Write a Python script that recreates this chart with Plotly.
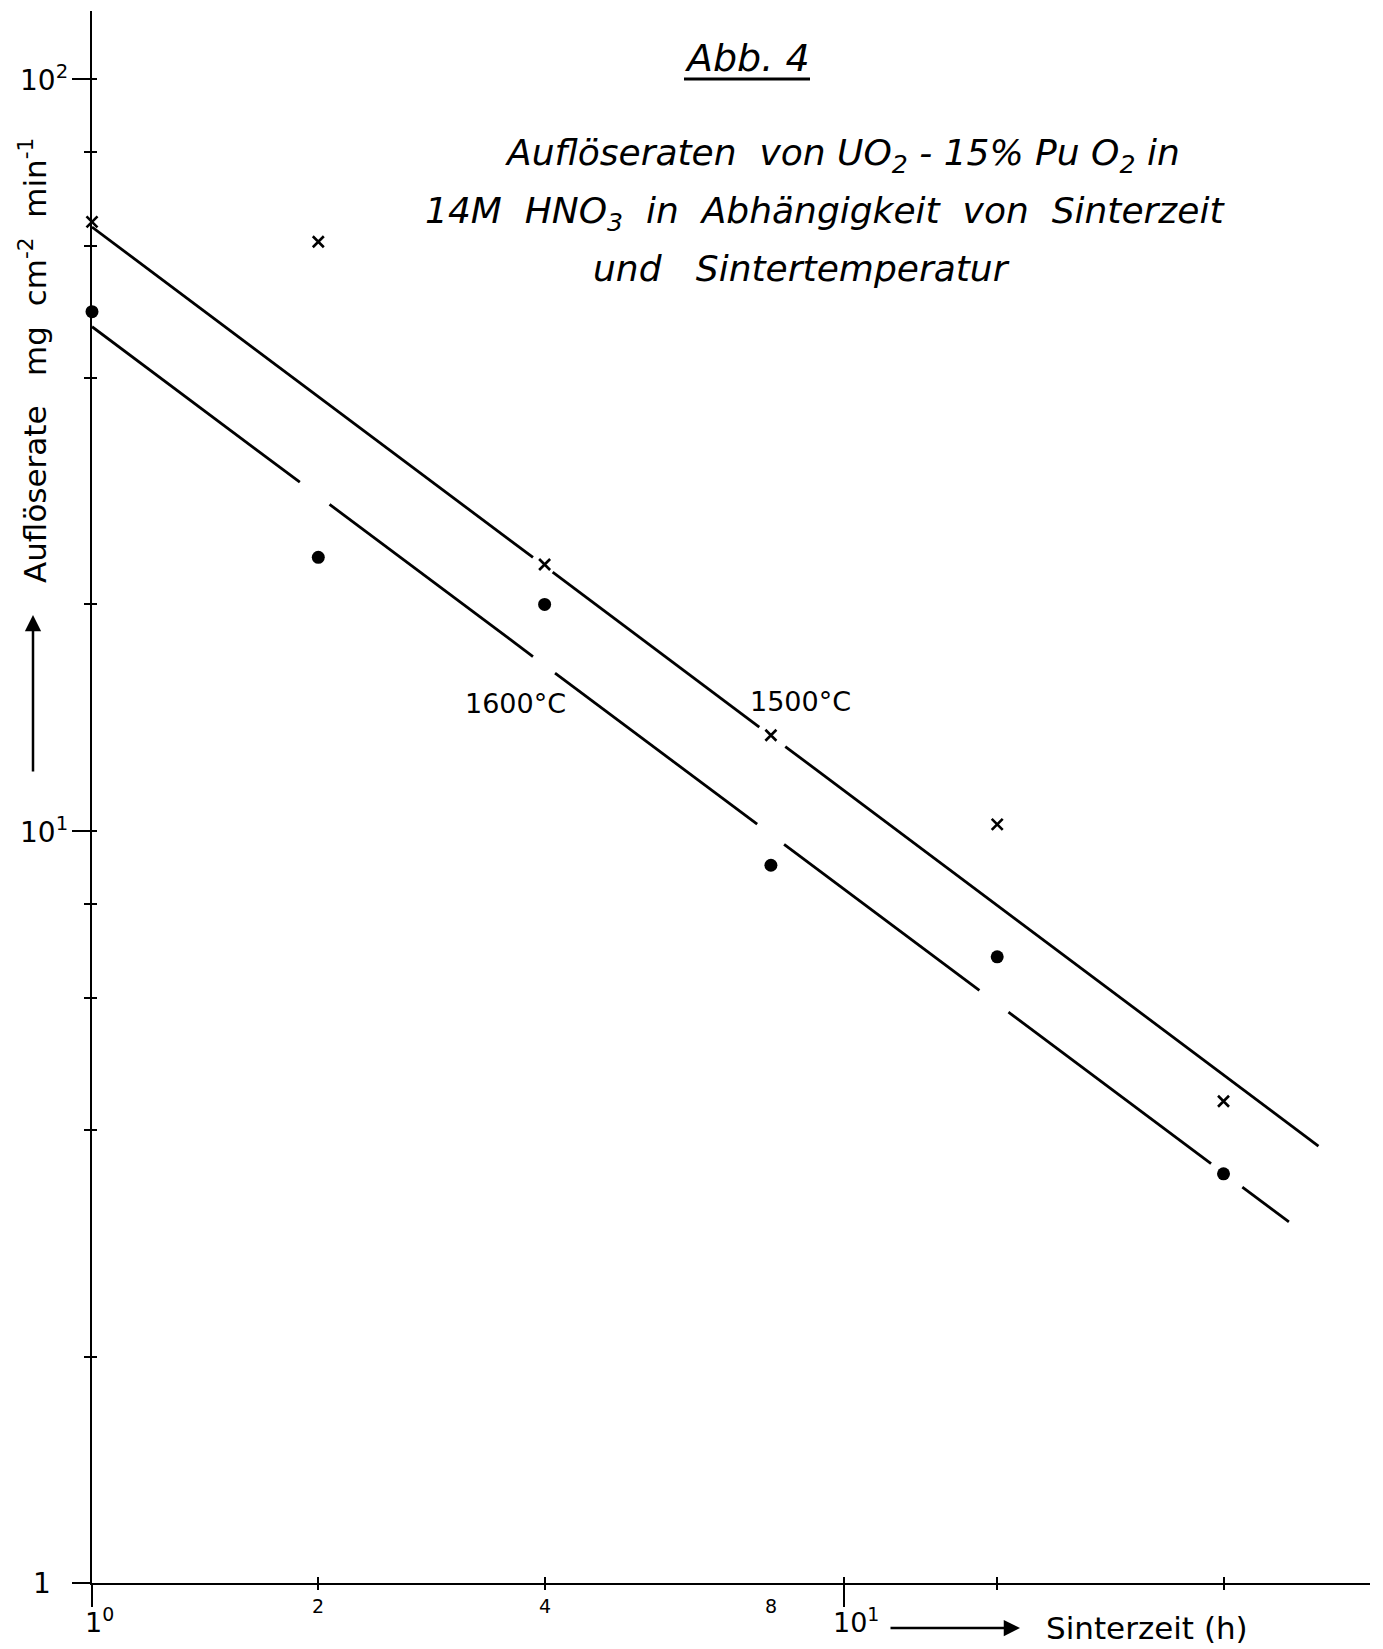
import numpy as np
import plotly.graph_objects as go

# ---------------- data ----------------
time_h = [1, 2, 4, 8, 16, 32]                       # Sinterzeit (h)
rate_1500 = [64.5, 60.7, 22.6, 13.4, 10.2, 4.37]    # crosses, 1500 °C
rate_1600 = [49.0, 23.1, 20.0, 9.0, 6.8, 3.5]       # dots, 1600 °C

# fitted straight lines (log-log), end points
fit_1500_x = [1.0, 42.8]
fit_1500_y = [63.5, 3.81]
fit_1600_x = [1.0, 39.1]
fit_1600_y = [46.8, 3.02]
# interruptions of the drawn lines (x intervals)
gaps_1500 = [(3.86, 4.10), (7.72, 8.36)]
gaps_1600 = [(1.89, 2.07), (3.86, 4.13), (7.67, 8.33), (15.15, 16.56), (30.8, 33.9)]

y_major = [1, 10, 100]
y_major_text = ["1", "10<sup>1</sup>", "10<sup>2</sup>"]
y_minor = [2, 4, 6, 8, 20, 40, 60, 80]
x_major = [1, 10]
x_minor = [2, 4, 16, 32]
x_label_vals = [1, 2, 4, 8, 10]
x_label_text = ["1<sup>0</sup>", "2", "4", "8", "10<sup>1</sup>"]

# ---------------- layout geometry ----------------
W, H = 1383, 1649
OFF = 8                      # page body margin
L, R, T, B = 84, 21, 3, 74
PW, PH = W - L - R, H - T - B
XR = [0, 1.70]
YR = [0, 2.09]

def px(x):                   # page pixel -> paper x
    return (x - OFF - L) / PW

def py(y):                   # page pixel -> paper y
    return (H - B - (y - OFF)) / PH

FONT = "DejaVu Sans"


def segments(xe, ye, gaps):
    k = np.log(ye[1] / ye[0]) / np.log(xe[1] / xe[0])
    f = lambda x: ye[0] * (x / xe[0]) ** k
    bounds = [xe[0]]
    for g0, g1 in gaps:
        bounds += [g0, g1]
    bounds.append(xe[1])
    xs, ys = [], []
    for i in range(0, len(bounds), 2):
        a, b = bounds[i], bounds[i + 1]
        xs += [a, b, None]
        ys += [f(a), f(b), None]
    return xs, ys


fig = go.Figure()
for xe, ye, gp in [(fit_1500_x, fit_1500_y, gaps_1500), (fit_1600_x, fit_1600_y, gaps_1600)]:
    xs, ys = segments(xe, ye, gp)
    fig.add_trace(go.Scatter(x=xs, y=ys, mode="lines", line=dict(color="black", width=2.8),
                             showlegend=False, hoverinfo="skip", cliponaxis=False))

fig.add_trace(go.Scatter(x=time_h, y=rate_1500, mode="markers", name="1500 °C",
                         marker=dict(symbol="x-thin", size=11, line=dict(color="black", width=2.6)),
                         showlegend=False, cliponaxis=False))
fig.add_trace(go.Scatter(x=time_h, y=rate_1600, mode="markers", name="1600 °C",
                         marker=dict(symbol="circle", size=13, color="black"),
                         showlegend=False, cliponaxis=False))
# helper trace so overlay axes render
fig.add_trace(go.Scatter(x=[None], y=[None], xaxis="x2", yaxis="y2", showlegend=False))

axis_common = dict(showgrid=False, zeroline=False, showline=True, linecolor="black", linewidth=2,
                   tickcolor="black", tickwidth=2, showticklabels=False, automargin=False)
fig.update_layout(
    width=W, height=H,
    margin=dict(l=L, r=R, t=T, b=B),
    paper_bgcolor="white", plot_bgcolor="white",
    xaxis=dict(type="log", range=XR, tickvals=x_major, ticks="outside", ticklen=22,
               minor=dict(tickvals=x_minor, ticks="outside", ticklen=5, tickwidth=2, tickcolor="black"),
               **axis_common),
    yaxis=dict(type="log", range=YR, tickvals=y_major, ticks="outside", ticklen=18,
               minor=dict(tickvals=y_minor, ticks="outside", ticklen=6, tickwidth=2, tickcolor="black"),
               **axis_common),
    xaxis2=dict(type="log", range=XR, overlaying="x", anchor="y2", side="bottom",
                tickvals=x_major + x_minor, ticks="inside", ticklen=6, **axis_common),
    yaxis2=dict(type="log", range=YR, overlaying="y", anchor="x2", side="left",
                tickvals=y_major + y_minor, ticks="inside", ticklen=5, **axis_common),
    font=dict(family=FONT, color="black"),
)


def text(x, y, t, size, xanchor="center", yanchor="middle", **kw):
    d = dict(x=x, y=y, xref="paper", yref="paper", text=t, showarrow=False,
             xanchor=xanchor, yanchor=yanchor, font=dict(size=size, family=FONT, color="black"))
    d.update(kw)
    return d


ann = []
# y tick labels
for v, t in zip(y_major, y_major_text):
    d = text(px(53) if v == 1 else px(70), 0, t, 28, xanchor="right")
    d.update(yref="y", y=np.log10(v))
    ann.append(d)
# x tick labels
for v, t in zip(x_label_vals, x_label_text):
    if v in (1, 10):
        size, ypx, dx = 27, 1621, (7 if v == 1 else 12)
    else:
        size, ypx, dx = 19, 1606, 0
    d = text(0, py(ypx), t, size, xshift=dx)
    d.update(xref="x", x=np.log10(v))
    ann.append(d)
# x axis title with arrow
ann.append(dict(x=px(1020), y=py(1628), xref="paper", yref="paper", text="", showarrow=True,
                ax=-131, ay=0, arrowhead=2, arrowsize=1.3, arrowwidth=2.5, arrowcolor="black"))
ann.append(text(px(1044), py(1628), "Sinterzeit (h)", 31, xanchor="left"))
# y axis title with arrow
ann.append(text(px(33), py(361), "Auflöserate   mg  cm<sup>-2</sup>  min<sup>-1</sup>", 31, textangle=-90))
ann.append(dict(x=px(33), y=py(615), xref="paper", yref="paper", text="", showarrow=True,
                ax=0, ay=158, arrowhead=2, arrowsize=1.3, arrowwidth=2.5, arrowcolor="black"))
# series labels
ann.append(text(px(515), py(703), "1600°C", 27))
ann.append(text(px(800), py(701), "1500°C", 27))
# title
ann.append(text(px(747), py(58), "<i>Abb. 4</i>", 38))
title_lines = ["<i>Auflöseraten  von UO<sub>2</sub> - 15% Pu O<sub>2</sub> in</i>",
               "<i>14M  HNO<sub>3</sub>  in  Abhängigkeit  von  Sinterzeit</i>",
               "<i>und   Sintertemperatur</i>"]
for t, (cx, cy) in zip(title_lines, [(801 * 1.0517, 155), (784 * 1.0517, 213), (762 * 1.0517, 268)]):
    ann.append(text(px(cx), py(cy), t, 36))
fig.update_layout(annotations=ann)
fig.add_shape(type="line", xref="paper", yref="paper", x0=px(684), x1=px(810), y0=py(79), y1=py(79),
              line=dict(color="black", width=3))

fig.write_html("out.html")
